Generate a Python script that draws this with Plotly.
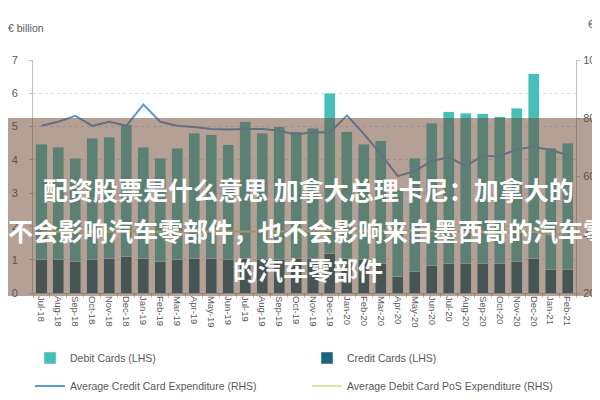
import plotly.graph_objects as go

months = ["Jul-18","Aug-18","Sep-18","Oct-18","Nov-18","Dec-18","Jan-19","Feb-19","Mar-19","Apr-19",
          "May-19","Jun-19","Jul-19","Aug-19","Sep-19","Oct-19","Nov-19","Dec-19","Jan-20","Feb-20",
          "Mar-20","Apr-20","May-20","Jun-20","Jul-20","Aug-20","Sep-20","Oct-20","Nov-20","Dec-20",
          "Jan-21","Feb-21"]

# LHS, EUR billion
credit_cards = [1.00,1.00,0.95,1.00,1.05,1.10,1.05,0.95,1.00,1.05,
                1.05,1.00,1.05,1.00,1.00,1.05,1.05,1.20,1.05,1.00,
                0.90,0.50,0.65,0.83,0.90,0.90,0.90,0.90,0.95,1.05,
                0.70,0.70]
total_cards = [4.47,4.38,4.05,4.65,4.68,5.05,4.38,4.05,4.35,4.80,
               4.75,4.45,5.15,4.80,5.00,4.85,4.95,6.00,4.85,4.47,
               4.58,3.10,4.05,5.10,5.45,5.40,5.38,5.30,5.55,6.58,
               4.35,4.50]
debit_cards = [round(t - c, 2) for t, c in zip(total_cards, credit_cards)]

# RHS, EUR
avg_credit_exp = [77.4,78.8,80.8,77.4,78.8,77.4,84.7,78.8,77.4,77.0,
                  76.3,76.1,76.3,76.3,75.8,74.3,75.3,75.0,81.0,74.6,
                  67.7,60.1,61.9,65.3,66.6,63.6,67.1,66.9,69.4,70.1,
                  69.2,67.3]
avg_debit_pos_exp = [41.0,41.0,41.2,41.0,41.0,41.3,41.0,41.0,41.0,41.1,
                     41.2,41.2,41.2,41.2,41.0,41.2,41.4,41.6,41.3,41.4,
                     41.5,41.5,41.4,41.2,41.0,41.0,41.0,40.8,40.8,41.0,
                     40.2,40.2]

left_ticks = [0, 1, 2, 3, 4, 5, 6, 7]
right_ticks = [20, 40, 60, 80, 100]

DEBIT = "#45bfb8"
CREDIT = "#1b6479"
BLUE = "#5a9bd6"
PALE = "#dfe6a6"
GRAY = "#595959"

fig = go.Figure()
fig.add_trace(go.Bar(x=months, y=credit_cards, name="Credit Cards (LHS)", marker_color=CREDIT,
                     legend="legend2"))
fig.add_trace(go.Bar(x=months, y=debit_cards, name="Debit Cards (LHS)", marker_color=DEBIT,
                     legend="legend"))
fig.add_trace(go.Scatter(x=months, y=avg_credit_exp, name="Average Credit Card Expenditure (RHS)",
                         mode="lines", line=dict(color=BLUE, width=2), yaxis="y2", legend="legend3"))
fig.add_trace(go.Scatter(x=months, y=avg_debit_pos_exp, name="Average Debit Card PoS Expenditure (RHS)",
                         mode="lines", line=dict(color=PALE, width=2), yaxis="y2", legend="legend4"))

L, R, T, B = 25, 32, 52, 115
PW, PH = 600 - L - R, 400 - T - B
def px(x): return (x - L) / PW
def py(y): return (400 - B - y) / PH

def leg(xp, yp):
    return dict(x=px(xp), y=py(yp), orientation="h", xanchor="left", yanchor="middle",
                font=dict(family="Liberation Sans", size=10.5, color=GRAY),
                bgcolor="rgba(0,0,0,0)", borderwidth=0)

fig.update_layout(
    width=600, height=400,
    margin=dict(l=L, r=R, t=T, b=B, autoexpand=False),
    paper_bgcolor="white", plot_bgcolor="white",
    barmode="stack", bargap=0.35,
    font=dict(family="Liberation Sans", color=GRAY),
    xaxis=dict(type="category", tickangle=90, tickfont=dict(size=9.5, color=GRAY), automargin=False,
               showline=True, linecolor="#bfbfbf", ticks="outside", ticklen=4, tickcolor="#bfbfbf",
               tickson="boundaries", showgrid=False),
    yaxis=dict(range=[0, 7], tickvals=left_ticks, showline=True, linecolor="#bfbfbf", automargin=False,
               ticks="outside", ticklen=3, tickcolor="#bfbfbf", tickfont=dict(size=11, color=GRAY),
               ticklabelstandoff=9,
               showgrid=True, gridcolor="#d9d9d9", griddash="dot", zeroline=False),
    yaxis2=dict(range=[20, 100], tickvals=right_ticks, overlaying="y", side="right", automargin=False,
                showline=True, linecolor="#bfbfbf", ticks="outside", ticklen=3, tickcolor="#bfbfbf",
                ticklabelstandoff=1,
                tickfont=dict(size=11, color=GRAY), showgrid=False, zeroline=False),
    legend=leg(22, 350),
    legend2=leg(299, 350),
    legend3=leg(22, 378),
    legend4=leg(299, 378),
    showlegend=True,
)

fig.add_annotation(text="€ billion", xref="paper", yref="paper", x=px(-2), y=py(20),
                   xanchor="left", yanchor="middle", showarrow=False,
                   font=dict(size=10.5, color=GRAY))
fig.add_annotation(text="€", xref="paper", yref="paper", x=px(578), y=py(16),
                   xanchor="left", yanchor="middle", showarrow=False,
                   font=dict(size=10.5, color=GRAY))

# semi-transparent banner overlay
fig.add_shape(type="rect", xref="paper", yref="paper", x0=px(-5), x1=px(605), y0=py(288), y1=py(110),
              fillcolor="rgba(112,72,52,0.52)", line=dict(width=0), layer="above")

lines = ["配资股票是什么意思 加拿大总理卡尼：加拿大的",
         "不会影响汽车零部件，也不会影响来自墨西哥的汽车零",
         "的汽车零部件"]
ys = [181, 222, 261]
for t, yy in zip(lines, ys):
    fig.add_annotation(text=t, xref="paper", yref="paper", x=px(300), y=py(yy),
                       xanchor="center", yanchor="middle", showarrow=False,
                       font=dict(family="Noto Sans CJK SC", size=25, color="white", weight="bold"))

fig.write_html("out.html")
